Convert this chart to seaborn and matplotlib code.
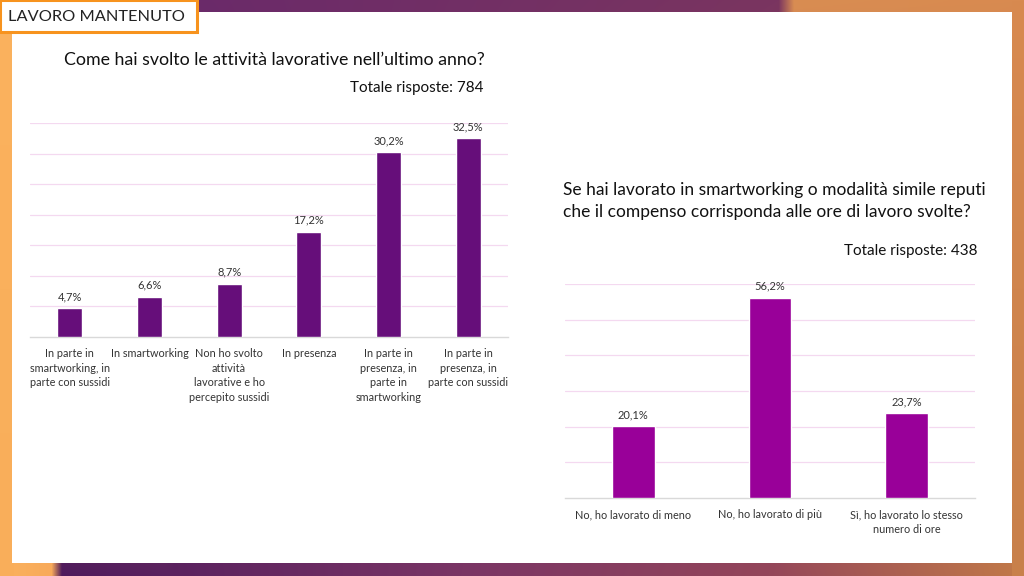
import numpy as np
import pandas as pd
import matplotlib
matplotlib.use("Agg")
import matplotlib.pyplot as plt
import seaborn as sns

# ---- data ----
cats1 = ["In parte in\nsmartworking, in\nparte con sussidi", "In smartworking",
         "Non ho svolto\nattività\nlavorative e ho\npercepito sussidi", "In presenza",
         "In parte in\npresenza, in\nparte in\nsmartworking", "In parte in\npresenza, in\nparte con sussidi"]
vals1 = [4.7, 6.6, 8.7, 17.2, 30.2, 32.5]
cats2 = ["No, ho lavorato di meno", "No, ho lavorato di più", "Sì, ho lavorato lo stesso\nnumero di ore"]
vals2 = [20.1, 56.2, 23.7]
title1 = "Come hai svolto le attività lavorative nell\u2019ultimo anno?"
total1 = "Totale risposte: 784"
title2 = "Se hai lavorato in smartworking o modalità simile reputi\nche il compenso corrisponda alle ore di lavoro svolte?"
total2 = "Totale risposte: 438"
header = "LAVORO MANTENUTO"

sns.set_theme(style="white")
plt.rcParams['font.family'] = ['Lato', 'DejaVu Sans']

W, H = 1024, 576
fig = plt.figure(figsize=(W / 100, H / 100), dpi=100)

# ---- background frame ----
def hgrad(stops, n):
    xs = np.array([s[0] for s in stops]) * n
    cols = np.array([s[1] for s in stops], dtype=float)
    xi = np.arange(n)
    return np.stack([np.interp(xi, xs, cols[:, k]) for k in range(3)], axis=1)

def hx(c):
    c = c.lstrip('#')
    return [int(c[i:i + 2], 16) / 255 for i in (0, 2, 4)]

img = np.ones((H, W, 3))
top = hgrad([(0, hx('#fbb25e')), (0.16, hx('#f5a85a')), (0.17, hx('#6a2a6a')),
             (0.76, hx('#7a3560')), (0.775, hx('#d98d52')), (1.0, hx('#d88a50'))], W)
bot = hgrad([(0, hx('#fbb25e')), (0.05, hx('#f8aa5a')), (0.06, hx('#4e1a5c')),
             (0.45, hx('#7a3565')), (0.75, hx('#94465a')), (1.0, hx('#c27a48'))], W)
vgrad_l = hgrad([(0, hx('#fbb25e')), (1, hx('#f9ae5a'))], H)
vgrad_r = hgrad([(0, hx('#d88a50')), (1, hx('#c8804a'))], H)
for y in range(H):
    t = y / (H - 1)
    img[y, :, :] = top * (1 - t) + bot * t
img[:, :14, :] = vgrad_l[:, None, :]
img[:, 1012:, :] = vgrad_r[:, None, :]
img[12:563, 12:1012, :] = 1.0
bg = fig.add_axes([0, 0, 1, 1])
bg.imshow(img, aspect='auto', extent=[0, W, H, 0], zorder=0)
bg.set_xlim(0, W)
bg.set_ylim(H, 0)
bg.axis('off')

# header box
bg.add_patch(plt.Rectangle((0, 0), 197, 32, facecolor='white', edgecolor='#f7931e', lw=2.2, zorder=2))
bg.text(8, 17, header, fontsize=11.8, color='#222222', va='center', ha='left', zorder=3)

# titles
bg.text(64, 60, title1, fontsize=12.8, color='#111111', va='center', ha='left')
bg.text(484, 88, total1, fontsize=11, color='#111111', va='center', ha='right')
bg.text(563, 201, title2, fontsize=12.5, color='#111111', va='center', ha='left', linespacing=1.45)
bg.text(977, 251, total2, fontsize=11, color='#111111', va='center', ha='right')

def draw(ax, cats, vals, color, ymax, step):
    df = pd.DataFrame({"cat": cats, "val": vals})
    sns.barplot(data=df, x="cat", y="val", ax=ax, color=color, width=0.31,
                saturation=1, zorder=3)
    ax.set_ylim(0, ymax)
    ax.set_xlim(-0.5, len(cats) - 0.5)
    ax.set_yticks(np.arange(step, ymax + 0.01, step))
    ax.yaxis.grid(True, color='#f4d9f0', lw=0.9, zorder=0)
    ax.set_yticklabels([])
    ax.tick_params(axis='y', length=0)
    ax.tick_params(axis='x', length=0, pad=8, labelsize=7.8, labelcolor='#333333')
    ax.set_xlabel("")
    ax.set_ylabel("")
    for s in ['top', 'right', 'left']:
        ax.spines[s].set_visible(False)
    ax.spines['bottom'].set_color('#d9d9d9')
    ax.spines['bottom'].set_linewidth(1.0)
    ax.set_facecolor('none')
    for lbl in ax.get_xticklabels():
        lbl.set_linespacing(1.4)
    for i, v in enumerate(vals):
        ax.annotate(f"{v:.1f}%".replace('.', ','), (i, v), xytext=(0, 4.5),
                    textcoords='offset points', ha='center', va='bottom',
                    fontsize=8, color='#333333')

ax1 = fig.add_axes([30 / W, 1 - 337 / H, 478 / W, 214 / H])
draw(ax1, cats1, vals1, '#660e7a', 35, 5)
ax2 = fig.add_axes([565 / W, 1 - 498 / H, 410 / W, 214 / H])
draw(ax2, cats2, vals2, '#990099', 60, 10)

fig.savefig("out.png", dpi=100)
